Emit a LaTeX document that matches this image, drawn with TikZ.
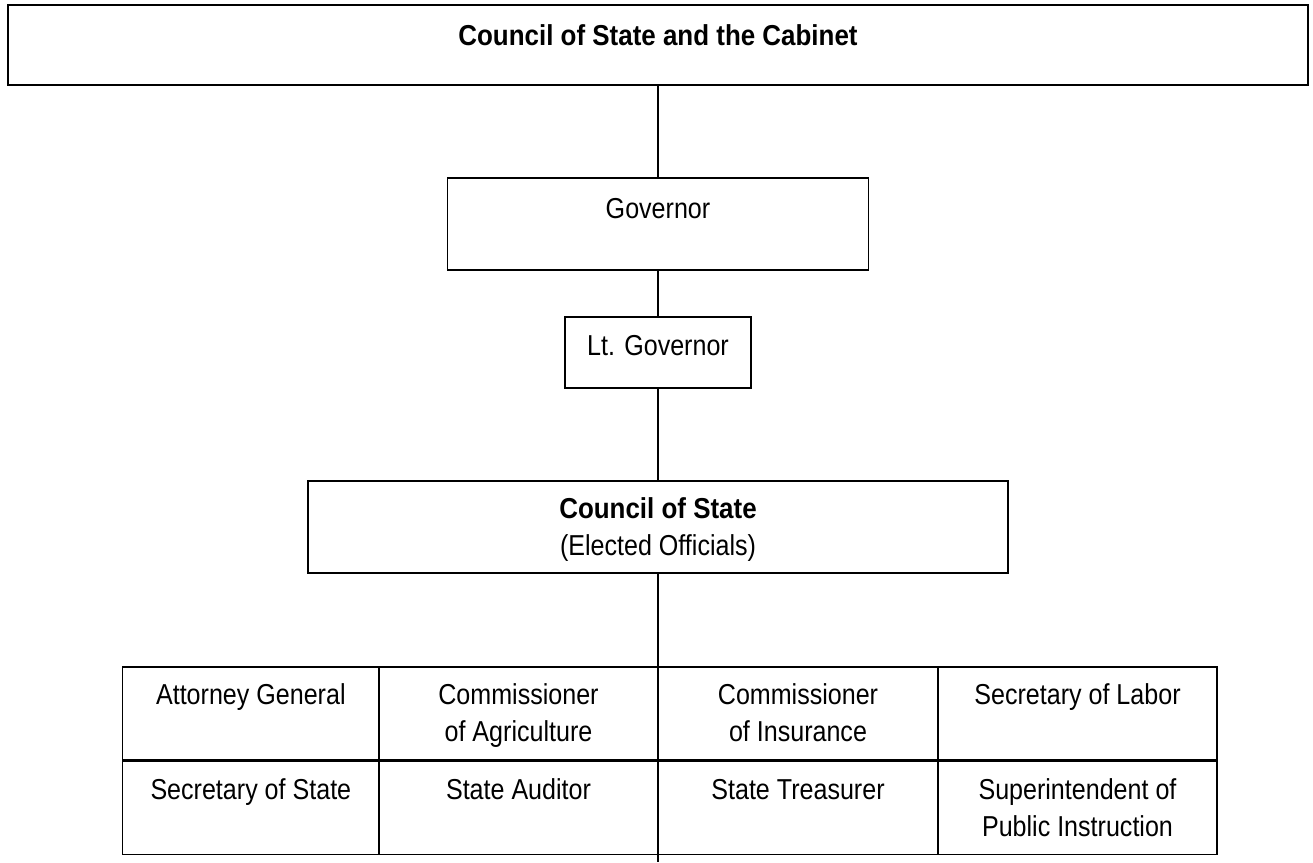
\documentclass[tikz,border=0pt]{standalone}
\usepackage{fontspec}
\setmainfont{Liberation Sans}[FakeStretch=0.87,BoldFeatures={FakeStretch=0.9}]
\newcommand{\twoline}[2]{\begin{tabular}[t]{@{}c@{}}#1\\#2\end{tabular}}
\tikzset{
  box/.style={draw,line width=0.45pt,inner sep=0pt,anchor=north},
  cell/.style={box,minimum width=#1,text height=0.38cm,text depth=0.55cm},
}
\begin{document}
\begin{tikzpicture}[every node/.style={font=\fontsize{8.2}{10.5}\selectfont}]
                \useasboundingbox (0,0) rectangle (13.13,-8.62);
                \node[box,minimum width=13cm,text height=0.41cm,text depth=0.39cm] (cab) at (6.58,-0.04) {\textbf{Council of State and the Cabinet}};
                \node[box,minimum width=4.21cm,text height=0.41cm,text depth=0.51cm] (gov) at (6.58,-1.77) {Governor};
                \node[box,minimum width=1.86cm,text height=0.39cm,text depth=0.32cm] (lt) at (6.58,-3.16) {Lt. Governor};
                \node[box,minimum width=7cm,text height=0.38cm,text depth=0.54cm] (csb) at (6.58,-4.80) {\twoline{\textbf{Council of State}}{(Elected Officials)}};
                % elected officials
                \node[cell=2.563cm] (ag) at (2.5085,-6.66) {Attorney General};
                \node[cell=2.79cm] (agr) at (5.185,-6.66) {\twoline{Commissioner}{of Agriculture}};
                \node[cell=2.8cm] (ins) at (7.98,-6.66) {\twoline{Commissioner}{of Insurance}};
                \node[cell=2.79cm] (lab) at (10.775,-6.66) {Secretary of Labor};
                \node[cell=2.563cm] (sos) at (ag.south) {Secretary of State};
                \node[cell=2.79cm] (aud) at (agr.south) {State Auditor};
                \node[cell=2.8cm] (tre) at (ins.south) {State Treasurer};
                \node[cell=2.79cm] (sup) at (lab.south) {\twoline{Superintendent of}{Public Instruction}};
                \coordinate (bot) at (6.58,-8.62);
                \draw[line width=0.45pt] (cab.south) -- (gov.north);
                \draw[line width=0.45pt] (gov.south) -- (lt.north);
                \draw[line width=0.45pt] (lt.south) -- (csb.north);
                \draw[line width=0.45pt] (csb.south) -- (bot);
            \end{tikzpicture}
\end{document}
